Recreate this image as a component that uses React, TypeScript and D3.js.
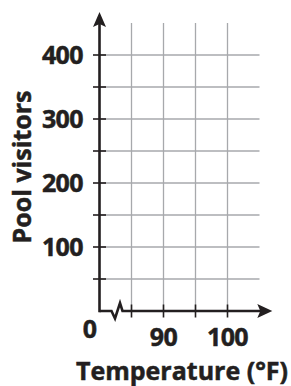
import React from "react";
import * as d3 from "d3";

const yGridValues = [50, 100, 150, 200, 250, 300, 350, 400];
const yLabelValues = [100, 200, 300, 400];
const xGridValues = [85, 90, 95, 100];
const xLabelValues = [90, 100];
const xTitle = "Temperature (°F)";
const yTitle = "Pool visitors";

const W = 291;
const H = 386;
const axisColor = "#231f20";
const gridColor = "#a7a9ac";
const font = "'Open Sans', sans-serif";

export default function App() {
  const x = d3.scaleLinear().domain([80, 105]).range([99.5, 259.5]);
  const y = d3.scaleLinear().domain([0, 400]).range([311, 55]);
  const x0 = x(80);
  const y0 = y(0);
  const gridTop = y(450);
  const yTip = y(467);
  const xTip = x(107);

  const zig = d3.line()([
    [x0, y0],
    [x0 + 12, y0],
    [x0 + 15.5, y0 + 7.5],
    [x0 + 20.5, y0 - 8],
    [x0 + 23, y0],
    [xTip - 8, y0],
  ]);

  const textProps = {
    fontFamily: font,
    fontWeight: 700,
    fontSize: 25,
    fill: axisColor,
    stroke: axisColor,
    strokeWidth: 0.5,
  };

  return (
    <svg width={W} height={H} style={{ position: "absolute", left: 0, top: 0 }}>
      <rect width={W} height={H} fill="#fff" />
      {yGridValues.map((v) => (
        <line key={"hy" + v} x1={x0} x2={x(105)} y1={y(v)} y2={y(v)} stroke={gridColor} strokeWidth={1.3} />
      ))}
      {xGridValues.map((v) => (
        <line key={"vx" + v} x1={x(v)} x2={x(v)} y1={gridTop} y2={y0} stroke={gridColor} strokeWidth={1.3} />
      ))}
      {yGridValues.map((v) => (
        <line key={"ty" + v} x1={x0 - 6.5} x2={x0 + 6.5} y1={y(v)} y2={y(v)} stroke={axisColor} strokeWidth={1.6} />
      ))}
      {xGridValues.map((v) => (
        <line key={"tx" + v} x1={x(v)} x2={x(v)} y1={y0 - 6.5} y2={y0 + 6.5} stroke={axisColor} strokeWidth={1.6} />
      ))}
      <line x1={x0} x2={x0} y1={y0 + 1.2} y2={yTip + 8} stroke={axisColor} strokeWidth={2.6} />
      <path d={zig || ""} fill="none" stroke={axisColor} strokeWidth={2.6} strokeLinejoin="miter" />
      <path d={`M${x0},${yTip} L${x0 - 6.5},${yTip + 15} L${x0},${yTip + 12} L${x0 + 6.5},${yTip + 15} Z`} fill={axisColor} />
      <path d={`M${xTip},${y0} L${xTip - 15},${y0 - 7} L${xTip - 12},${y0} L${xTip - 15},${y0 + 7} Z`} fill={axisColor} />
      {yLabelValues.map((v) => (
        <text key={"ly" + v} x={83} y={y(v)} dy="0.36em" textAnchor="end" letterSpacing={-0.6} {...textProps}>
          {v}
        </text>
      ))}
      {xLabelValues.map((v) => (
        <text key={"lx" + v} x={x(v)} y={346} textAnchor="middle" letterSpacing={-0.6} {...textProps}>
          {v}
        </text>
      ))}
      <text x={90} y={338} textAnchor="middle" {...textProps}>0</text>
      <text x={182} y={380} textAnchor="middle" {...textProps}>{xTitle}</text>
      <text transform={`translate(31,167) rotate(-90)`} textAnchor="middle" {...textProps}>{yTitle}</text>
    </svg>
  );
}
